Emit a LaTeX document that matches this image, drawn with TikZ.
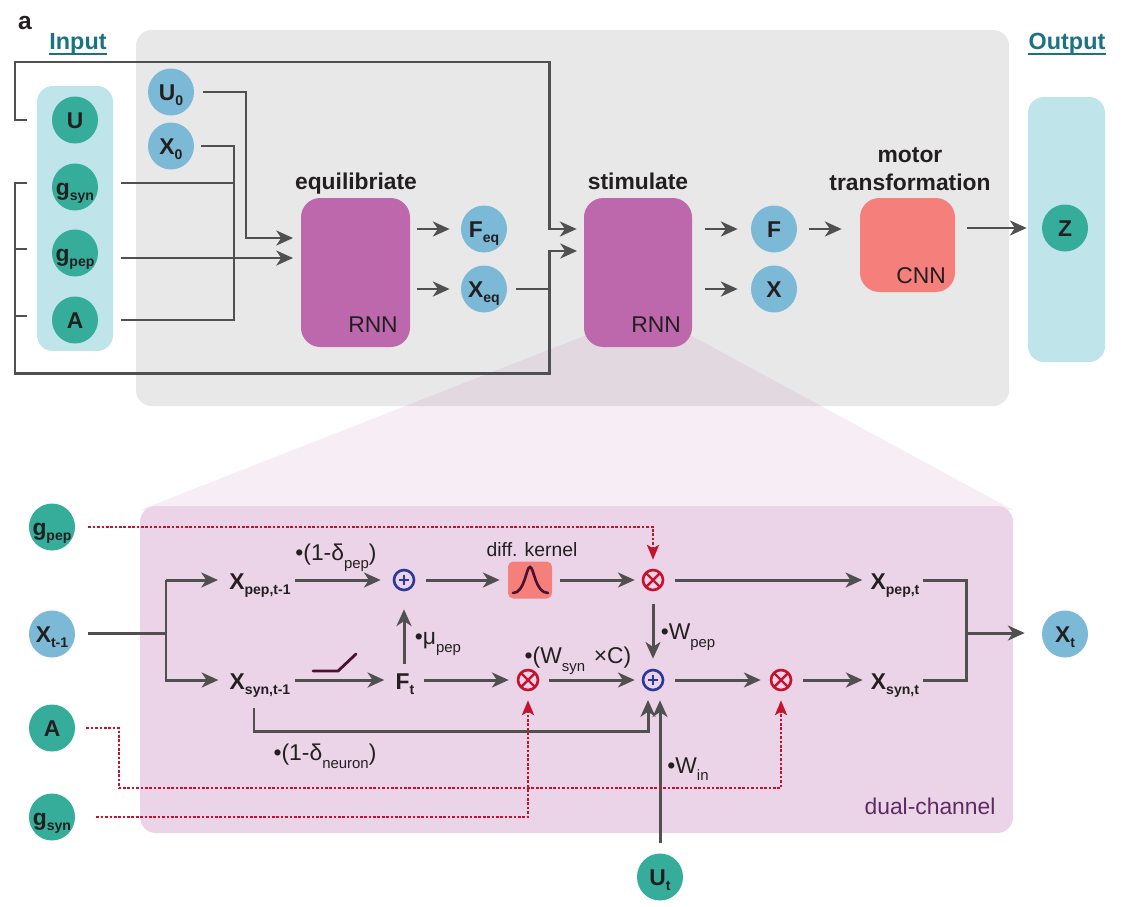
\documentclass[tikz,border=0pt]{standalone}
\usepackage{fontspec}
\setmainfont{Liberation Sans}
\usetikzlibrary{arrows.meta,shapes.geometric}

\definecolor{panelgray}{HTML}{E8E8E8}
\definecolor{panelcyan}{HTML}{BFE5EB}
\definecolor{panelpink}{HTML}{ECD4E8}
\definecolor{rnnpurple}{HTML}{BD67AD}
\definecolor{cnnred}{HTML}{F57F7B}
\definecolor{ballblue}{HTML}{7CB9D6}
\definecolor{ballgreen}{HTML}{36AD9A}
\definecolor{headteal}{HTML}{1A7383}
\definecolor{inkdark}{HTML}{231F20}
\definecolor{linegray}{HTML}{505050}
\definecolor{gatered}{HTML}{C4122F}
\definecolor{gateblue}{HTML}{2B3A9A}
\definecolor{rampdark}{HTML}{4A1230}
\definecolor{tagpurple}{HTML}{5D2A63}

\newcommand{\bsub}[1]{{\fontsize{8}{8}\selectfont\raisebox{-3.2pt}{#1}}}
\newcommand{\rsub}[1]{{\fontsize{8.5}{8.5}\selectfont\raisebox{-4.4pt}{#1}}}
\newcommand{\ballsub}[2]{\makebox[0pt]{#1\bsub{#2}}}

\tikzset{
  ball/.style={ellipse, inner sep=0pt, minimum width=46*0.02cm, minimum height=47*0.02cm,
    text=inkdark, text height=9.3pt, text depth=0pt, font=\bfseries\fontsize{13}{13}\selectfont},
  greenball/.style={ball, fill=ballgreen},
  blueball/.style={ball, fill=ballblue},
  panel/.style={rounded corners=9pt, inner sep=0pt},
  block/.style={rounded corners=11pt, inner sep=0pt},
  title/.style={inkdark, inner sep=0pt, text height=9.5pt, text depth=0pt, font=\bfseries\fontsize{13}{13}\selectfont},
  tag/.style={inkdark, font=\fontsize{13}{13}\selectfont},
  head/.style={headteal, inner sep=0pt, text height=9.5pt, text depth=2.3pt, font=\bfseries\fontsize{13.3}{13.3}\selectfont},
  varlabel/.style={inkdark, inner sep=0pt, text height=10.5pt, text depth=0pt, font=\bfseries\fontsize{13}{13}\selectfont},
  wire/.style={draw=linegray, line width=1.7pt},
  arrow/.style={wire, -{Stealth[length=9.5pt,width=8.5pt,inset=2.8pt]}},
  gap/.style 2 args={shorten <=#1*0.02cm, shorten >=#2*0.02cm},
  dotline/.style={draw=gatered, line width=.9pt, dash pattern=on 1.5pt off 1pt},
  dotarrow/.style={dotline, -{Stealth[length=8.5pt,width=7pt,inset=2pt]}},
  gate/.style={circle, inner sep=0pt, minimum size=20*0.02cm, line width=1.5pt},
  addgate/.style={gate, draw=gateblue, path picture={
    \draw[gateblue, line width=1.5pt] (path picture bounding box.center) +(-5,0) -- +(5,0) +(0,-5) -- +(0,5);}},
  mulgate/.style={gate, draw=gatered, path picture={
    \draw[gatered, line width=1.4pt] (path picture bounding box.north west) -- (path picture bounding box.south east)
      (path picture bounding box.north east) -- (path picture bounding box.south west);}},
}

\begin{document}
\begin{tikzpicture}[x=0.02cm, y=-0.02cm]
  \useasboundingbox (0,0) rectangle (1124,906);

  % panels
  \fill[panelgray, panel] (136,30) rectangle (1009,406);
  \fill[rnnpurple, opacity=.12] (584,336) -- (140,510) -- (1013,510) -- (692,336) -- cycle;
  \fill[panelpink, panel] (140,506) rectangle (1013,833);
  \node[fill=panelcyan, panel, minimum width=76*0.02cm, minimum height=265*0.02cm] (inbox) at (75,218.5) {};
  \node[fill=panelcyan, panel, minimum width=77*0.02cm, minimum height=265*0.02cm] (outbox) at (1066.5,229.5) {};

  \node[title, font=\bfseries\fontsize{14}{14}\selectfont] (panelname) at (25,21) {a};
  \node[head] (inhead) at (78,43) {Input};
  \node[head] (outhead) at (1067,43) {Output};
  \draw[headteal, line width=1.1pt] (inhead.south west) -- (inhead.south east);
  \draw[headteal, line width=1.1pt] (outhead.south west) -- (outhead.south east);

  % upper row
  \node[greenball] (uin) at (75,120) {U};
  \node[greenball] (gsynin) at (75,187) {\ballsub{g}{syn}};
  \node[greenball] (gpepin) at (75,253) {\ballsub{g}{pep}};
  \node[greenball] (ain) at (75,320) {A};
  \node[blueball] (uzero) at (171,92) {\ballsub{U}{0}};
  \node[blueball] (xzero) at (171,146) {\ballsub{X}{0}};
  \node[blueball] (feq) at (484,229) {\ballsub{F}{eq}};
  \node[blueball] (xeq) at (484,289) {\ballsub{X}{eq}};
  \node[blueball] (fout) at (774,229) {F};
  \node[blueball] (xout) at (774,289) {X};
  \node[greenball] (zout) at (1065,228) {Z};

  \node[block, fill=rnnpurple, minimum width=109*0.02cm, minimum height=149*0.02cm] (eqrnn) at (355.5,272.5) {};
  \node[block, fill=rnnpurple, minimum width=108*0.02cm, minimum height=149*0.02cm] (stimrnn) at (638,272.5) {};
  \node[block, fill=cnnred, minimum width=95*0.02cm, minimum height=94*0.02cm] (cnn) at (907.5,245) {};
  \node[tag] (eqtag) at (373,325) {RNN};
  \node[tag] (stimtag) at (656,325) {RNN};
  \node[tag] (cnntag) at (921,276) {CNN};
  \node[title] (eqname) at (356,181) {equilibriate};
  \node[title] (stimname) at (638,181) {stimulate};
  \node[title, text height=, text depth=] (cnnname) at (910,172) {\begin{tabular}{@{}c@{}}motor\\[2.3pt]transformation\end{tabular}};

  \coordinate (topleft) at (15,62);
  \coordinate (topright) at (549,62);
  \coordinate (busleft) at (15,373);
  \coordinate (busright) at (549,373);
  \coordinate (gsynstub) at (27,183);
  \coordinate (gpepstub) at (27,249);
  \coordinate (astub) at (27,316);
  \coordinate (gsynout) at (121,183);
  \coordinate (gpepout) at (121,258);
  \coordinate (aout) at (121,320);
  \coordinate (stimlow) at (584,251);
  \coordinate (eqhigh) at (301,238);
  \coordinate (eqlow) at (301,258);
  \coordinate (xbar) at (234,146);
  \coordinate (ubar) at (246,92);

  \draw[arrow, gap={10}{7}] (inbox.west |- uin) -- (topleft |- uin) -- (topleft) -- (topright) -- (topright |- feq) -- (stimrnn.west |- feq);
  \draw[arrow, gap={0}{7}] (gsynstub) -- (busleft |- gsynstub) -- (busleft) -- (busright) -- (busright |- stimlow) -- (stimlow);
  \draw[wire] (gpepstub) -- (busleft |- gpepstub);
  \draw[wire] (astub) -- (busleft |- astub);
  \draw[wire, gap={9}{0}] (xeq) -- (busright |- xeq);
  \draw[arrow, gap={9}{8}] (uzero) -- (ubar) -- (ubar |- eqhigh) -- (eqhigh);
  \draw[wire, gap={7}{0}] (xzero) -- (xbar) -- (xbar |- aout) -- (aout);
  \draw[wire] (gsynout) -- (xbar |- gsynout);
  \draw[arrow, gap={0}{8}] (gpepout) -- (eqlow);
  \draw[arrow, gap={7}{11}] (eqrnn.east |- feq) -- (feq);
  \draw[arrow, gap={7}{11}] (eqrnn.east |- xeq) -- (xeq);
  \draw[arrow, gap={13}{13}] (stimrnn.east |- fout) -- (fout);
  \draw[arrow, gap={13}{13}] (stimrnn.east |- xout) -- (xout);
  \draw[arrow, gap={12}{18}] (fout) -- (cnn.west |- fout);
  \draw[arrow, gap={12}{15}] (cnn.east |- zout) -- (zout);

  % lower row
  \node[greenball] (gpepgate) at (52,527) {\ballsub{g}{pep}};
  \node[blueball] (xold) at (52,634) {\ballsub{X}{t-1}};
  \node[greenball] (again) at (52,728) {A};
  \node[greenball] (gsyngate) at (52,817) {\ballsub{g}{syn}};
  \node[blueball] (xnew) at (1065,634) {\ballsub{X}{t}};
  \node[greenball] (uinput) at (660,877) {\ballsub{U}{t}};

  \node[varlabel] (xpepold) at (260,580) {X\bsub{pep,t-1}};
  \node[varlabel] (xsynold) at (260,680) {X\bsub{syn,t-1}};
  \node[varlabel] (ft) at (405,680) {F\bsub{t}};
  \node[varlabel] (xpepnew) at (895,580) {X\bsub{pep,t}};
  \node[varlabel] (xsynnew) at (895,680) {X\bsub{syn,t}};

  \node[addgate] (addtop) at (404,580) {};
  \node[mulgate] (multop) at (653,580) {};
  \node[mulgate] (mulleft) at (528,680) {};
  \node[addgate] (addlow) at (653,680) {};
  \node[mulgate] (mulright) at (781,680) {};
  \node[fill=cnnred, rounded corners=3pt, inner sep=0pt, minimum width=44*0.02cm, minimum height=37*0.02cm] (kernel) at (530,580) {};
  \draw[rampdark, line width=1.5pt, line cap=round] (513,593) .. controls (525,593) and (526,567) .. (530,567) .. controls (534,567) and (535,593) .. (548,593);
  \draw[rampdark, line width=1.6pt, line cap=round] (313,671) -- (338,671) -- (356,654);

  \node[tag] (pepdecay) at (336,558) {•(1-δ\rsub{pep})};
  \node[tag] (neurondecay) at (325,756) {•(1-δ\rsub{neuron})};
  \node[tag] (mupep) at (438,644) {•μ\rsub{pep}};
  \node[tag] (wsyn) at (578,661) {•(W\rsub{syn}\hspace{5pt}×C)};
  \node[tag] (wpep) at (688,637) {•W\rsub{pep}};
  \node[tag] (win) at (688,769) {•W\rsub{in}};
  \node[inkdark, font=\fontsize{11}{11}\selectfont] (kernelname) at (532,550) {diff. kernel};
  \node[tagpurple, font=\fontsize{13}{13}\selectfont] (dualname) at (930,806) {dual-channel};

  \coordinate (split) at (166,633);
  \coordinate (merge) at (966,633);
  \coordinate (decayturn) at (254,731);
  \coordinate (decayin) at (648,700);
  \coordinate (again1) at (119,728);
  \coordinate (again2) at (119,788);
  \coordinate (xpepstub) at (923,580);
  \coordinate (xsynstub) at (923,680);

  \draw[wire, gap={13}{0}] (xold.east |- split) -- (split);
  \draw[arrow, gap={0}{11}] (split |- xpepold) -- (split |- xsynold) -- (xsynold.west);
  \draw[arrow, gap={0}{11}] (split |- xpepold) -- (xpepold.west);
  \draw[arrow, gap={4}{12}] (xpepold.east) -- (addtop);
  \draw[arrow, gap={11}{8}] (addtop) -- (kernel);
  \draw[arrow, gap={8}{7}] (kernel) -- (multop);
  \draw[arrow, gap={11}{8}] (multop) -- (xpepnew.west);
  \draw[arrow, gap={4}{11}] (xsynold.east) -- (ft.west);
  \draw[arrow, gap={16}{18}] (addtop |- ft) -- (addtop);
  \draw[arrow, gap={9}{8}] (ft.east) -- (mulleft);
  \draw[arrow, gap={10}{7}] (mulleft) -- (addlow);
  \draw[arrow, gap={11}{9}] (addlow) -- (mulright);
  \draw[arrow, gap={11}{8}] (mulright) -- (xsynnew.west);
  \draw[arrow, gap={13}{10}] (multop) -- (addlow);
  \draw[wire] (xpepstub) -- (merge |- xpepnew) -- (merge |- xsynnew) -- (xsynstub);
  \draw[arrow, gap={0}{17}] (merge) -- (xnew.west |- merge);
  \draw[arrow, gap={18}{0}] (xsynold.south -| decayturn) -- (decayturn) -- (decayin |- decayturn) -- (decayin);
  \draw[arrow, gap={10}{9}] (uinput) -- (uinput |- addlow.south);

  \draw[dotarrow, gap={13}{9}] (gpepgate.east) -- (multop |- gpepgate) -- (multop.north);
  \draw[dotarrow, gap={11}{9}] (again) -- (again1) -- (again2) -- (mulright |- again2) -- (mulright.south);
  \draw[dotarrow, gap={21}{9}] (gsyngate) -- (mulleft |- gsyngate) -- (mulleft.south);
\end{tikzpicture}
\end{document}
